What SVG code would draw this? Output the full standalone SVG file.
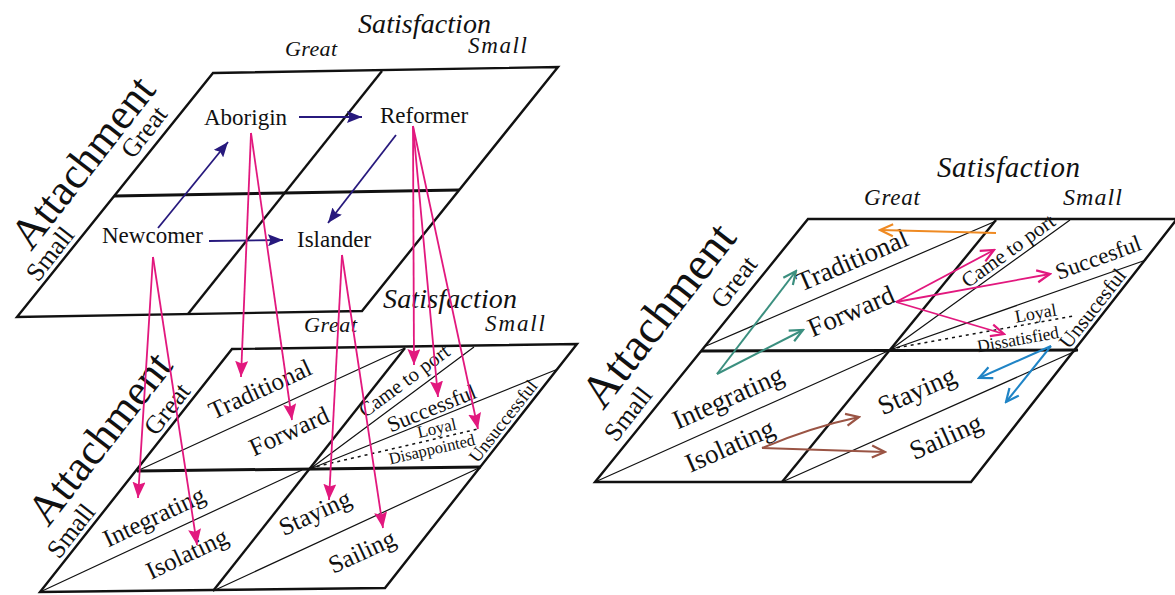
<svg xmlns="http://www.w3.org/2000/svg" width="1175" height="595" viewBox="0 0 1175 595">
  <style>
    .frame { fill: none; stroke: #111; stroke-width: 2.4; stroke-linejoin: miter; }
    .mid { fill: none; stroke: #111; stroke-width: 3; }
    .thin { fill: none; stroke: #111; stroke-width: 1.2; }
    .dot { fill: none; stroke: #111; stroke-width: 1.5; stroke-dasharray: 3 4; }
    text { font-family: "Liberation Serif", "Times New Roman", serif; fill: #111; }
    .head { font-style: italic; }
    .lbl { text-anchor: middle; }
    .side { font-size: 26px; }
    .axis { font-size: 44px; }
    .node { font-size: 23px; }
    .pink { fill: none; stroke: #e2187e; stroke-width: 1.8; }
    .navy { fill: none; stroke: #27197d; stroke-width: 1.8; }
    .teal { fill: none; stroke: #3b8f7f; stroke-width: 2; }
    .orange { fill: none; stroke: #ef8a22; stroke-width: 2; }
    .blue { fill: none; stroke: #1f84c6; stroke-width: 2; }
    .brown { fill: none; stroke: #9a5444; stroke-width: 2; }
  </style>
  <defs>
    <marker id="hPink" markerUnits="userSpaceOnUse" markerWidth="17" markerHeight="13" refX="16" refY="6.5" orient="auto">
      <path d="M0,0 L16,6.5 L0,13 L2.5,6.5 z" fill="#e2187e"/>
    </marker>
    <marker id="hNavy" markerUnits="userSpaceOnUse" markerWidth="16" markerHeight="12" refX="15" refY="6" orient="auto">
      <path d="M0,0 L15,6 L0,12 L2.5,6 z" fill="#27197d"/>
    </marker>
    <marker id="oPink" markerUnits="userSpaceOnUse" markerWidth="16" markerHeight="16" refX="14" refY="8" orient="auto">
      <path d="M1,2 L14,8 L1,14" fill="none" stroke="#e2187e" stroke-width="2.2"/>
    </marker>
    <marker id="oTeal" markerUnits="userSpaceOnUse" markerWidth="16" markerHeight="16" refX="14" refY="8" orient="auto">
      <path d="M1,2 L14,8 L1,14" fill="none" stroke="#3b8f7f" stroke-width="2.2"/>
    </marker>
    <marker id="oOrange" markerUnits="userSpaceOnUse" markerWidth="16" markerHeight="16" refX="14" refY="8" orient="auto">
      <path d="M1,2 L14,8 L1,14" fill="none" stroke="#ef8a22" stroke-width="2.2"/>
    </marker>
    <marker id="oBlue" markerUnits="userSpaceOnUse" markerWidth="16" markerHeight="16" refX="14" refY="8" orient="auto">
      <path d="M1,2 L14,8 L1,14" fill="none" stroke="#1f84c6" stroke-width="2.2"/>
    </marker>
    <marker id="oBrown" markerUnits="userSpaceOnUse" markerWidth="16" markerHeight="16" refX="14" refY="8" orient="auto">
      <path d="M1,2 L14,8 L1,14" fill="none" stroke="#9a5444" stroke-width="2.2"/>
    </marker>
  </defs>

  <!-- Upper-left plane: four types -->
  <g id="plane-types">
    <path class="frame" d="M213,73 L558,67 L362,311 L17,317 Z"/>
    <path class="frame" d="M382,71 L188,314"/>
    <path class="mid" d="M114,196 L459,190"/>
    <text class="head" x="358" y="33" font-size="28" textLength="133">Satisfaction</text>
    <text class="head" x="285" y="56" font-size="22" textLength="52">Great</text>
    <text class="head" x="468" y="53" font-size="23" textLength="59">Small</text>
    <text class="axis" transform="translate(31,252) rotate(-52)">Attachment</text>
    <text class="side" transform="translate(133,160) rotate(-52)">Great</text>
    <text class="side" transform="translate(38,283) rotate(-52)">Small</text>
  </g>
  <g id="node-aborigin"><text class="node" x="204" y="125">Aborigin</text></g>
  <g id="node-reformer"><text class="node" x="380" y="123">Reformer</text></g>
  <g id="node-newcomer"><text class="node" x="102" y="243">Newcomer</text></g>
  <g id="node-islander"><text class="node" x="297" y="247">Islander</text></g>

  <!-- Lower-left plane: strategies -->
  <g id="plane-strategies">
    <path class="frame" d="M232,349 L577,344 L385,588 L40,592 Z"/>
    <path class="frame" d="M405,348 L213,591"/>
    <path class="mid" d="M137,471 L481,467"/>
    <path class="thin" d="M137,471 L405,348 M310,469 L474,347 M310,469 L558,369 M40,592 L302,470 M213,591 L481,467"/>
    <path class="dot" d="M310,468 L478,429"/>
    <text class="head" x="383" y="308" font-size="28" textLength="134">Satisfaction</text>
    <text class="head" x="304" y="332" font-size="22" textLength="53">Great</text>
    <text class="head" x="485" y="331" font-size="23" textLength="60">Small</text>
    <text class="axis" transform="translate(48,528) rotate(-52)">Attachment</text>
    <text class="side" transform="translate(156,437) rotate(-52)">Great</text>
    <text class="side" transform="translate(59,560) rotate(-52)">Small</text>
  </g>
  <g id="node-traditional"><text class="lbl" style="font-size:25px" transform="translate(263.6,396.7) rotate(-24.7)">Traditional</text></g>
  <g id="node-forward"><text class="lbl" style="font-size:25px" transform="translate(292.6,438.7) rotate(-24.7)">Forward</text></g>
  <g id="node-came"><text class="lbl" style="font-size:20.5px" transform="translate(408.3,386.3) rotate(-36.6)">Came to port</text></g>
  <g id="node-successful"><text class="lbl" style="font-size:22px" transform="translate(434.3,415) rotate(-22)">Successful</text></g>
  <g id="node-loyal"><text class="lbl" style="font-size:17px" transform="translate(438,433.6) rotate(-13)">Loyal</text></g>
  <g id="node-disappointed"><text class="lbl" style="font-size:16.5px" transform="translate(433,454.6) rotate(-13)">Disappointed</text></g>
  <g id="node-unsuccessful"><text class="lbl" style="font-size:18.5px" transform="translate(507.9,424.9) rotate(-51.8)">Unsuccessful</text></g>
  <g id="node-integrating"><text class="lbl" style="font-size:25px" transform="translate(157.5,524.2) rotate(-25.3)">Integrating</text></g>
  <g id="node-isolating"><text class="lbl" style="font-size:25px" transform="translate(190.5,561.2) rotate(-25.3)">Isolating</text></g>
  <g id="node-staying"><text class="lbl" style="font-size:25px" transform="translate(318.4,520.2) rotate(-24.8)">Staying</text></g>
  <g id="node-sailing"><text class="lbl" style="font-size:25px" transform="translate(365.4,559.2) rotate(-24.8)">Sailing</text></g>

  <!-- Right plane: transitions between strategies -->
  <g id="plane-transitions">
    <path class="frame" d="M808,219 L1177,219 L971,482 L595,482 Z"/>
    <path class="frame" d="M996,220 L782,482"/>
    <path class="mid" d="M701,351 L1078,350"/>
    <path class="thin" d="M706,346 L996,221 M890,350 L1070,220 M890,350 L1146,260 M595,482 L888,351 M782,482 L1078,350"/>
    <path class="dot" d="M890,349 L1073,316"/>
    <text class="head" x="937" y="177" font-size="29" textLength="143">Satisfaction</text>
    <text class="head" x="864" y="205" font-size="23" textLength="56">Great</text>
    <text class="head" x="1063" y="205" font-size="24" textLength="59">Small</text>
    <text class="axis" style="font-size:47px" transform="translate(603,411) rotate(-52)">Attachment</text>
    <text class="side" transform="translate(723,310) rotate(-52)">Great</text>
    <text class="side" transform="translate(616,443) rotate(-52)">Small</text>
  </g>
  <g id="node-r-traditional"><text class="lbl" style="font-size:27px" transform="translate(855.6,268.4) rotate(-23.3)">Traditional</text></g>
  <g id="node-r-forward"><text class="lbl" style="font-size:27px" transform="translate(854.6,319.4) rotate(-23.3)">Forward</text></g>
  <g id="node-r-came"><text class="lbl" style="font-size:21px" transform="translate(1012.3,256.4) rotate(-35.8)">Came to port</text></g>
  <g id="node-r-succesful"><text class="lbl" style="font-size:23px" transform="translate(1100.8,264.7) rotate(-20)">Succesful</text></g>
  <g id="node-r-loyal"><text class="lbl" style="font-size:18px" transform="translate(1036.7,319) rotate(-10)">Loyal</text></g>
  <g id="node-r-dissatisfied"><text class="lbl" style="font-size:17.5px" transform="translate(1019,345) rotate(-10)">Dissatisfied</text></g>
  <g id="node-r-unsucesful"><text class="lbl" style="font-size:21px" transform="translate(1098,312.9) rotate(-51.8)">Unsucesful</text></g>
  <g id="node-r-integrating"><text class="lbl" style="font-size:27px" transform="translate(731.5,405.7) rotate(-24)">Integrating</text></g>
  <g id="node-r-isolating"><text class="lbl" style="font-size:27px" transform="translate(733.5,453.7) rotate(-24)">Isolating</text></g>
  <g id="node-r-staying"><text class="lbl" style="font-size:27px" transform="translate(920.5,398.7) rotate(-24)">Staying</text></g>
  <g id="node-r-sailing"><text class="lbl" style="font-size:27px" transform="translate(949.5,444.7) rotate(-24)">Sailing</text></g>

  <!-- Connectors -->
  <g id="connectors">
    <!-- type changes on the upper plane -->
    <path class="navy" marker-end="url(#hNavy)" d="M299,117 L362,117"/>
    <path class="navy" marker-end="url(#hNavy)" d="M158,228 L228,142"/>
    <path class="navy" marker-end="url(#hNavy)" d="M396,135 L328,223"/>
    <path class="navy" marker-end="url(#hNavy)" d="M209,241 L283,240"/>
    <!-- types projected onto strategies -->
    <path class="pink" marker-end="url(#hPink)" d="M251,133 L241,377"/>
    <path class="pink" marker-end="url(#hPink)" d="M251,133 L292,420"/>
    <path class="pink" marker-end="url(#hPink)" d="M413,126 L414,365"/>
    <path class="pink" marker-end="url(#hPink)" d="M413,126 L438,397"/>
    <path class="pink" marker-end="url(#hPink)" d="M413,126 L478,429"/>
    <path class="pink" marker-end="url(#hPink)" d="M153,257 L138,498"/>
    <path class="pink" marker-end="url(#hPink)" d="M153,257 L197,545"/>
    <path class="pink" marker-end="url(#hPink)" d="M342,255 L329,500"/>
    <path class="pink" marker-end="url(#hPink)" d="M342,255 L383,528"/>
    <!-- transitions on the right plane -->
    <path class="orange" marker-end="url(#oOrange)" d="M996,233 L880,230"/>
    <path class="teal" marker-end="url(#oTeal)" d="M717,374 L796,271"/>
    <path class="teal" marker-end="url(#oTeal)" d="M717,374 L803,330"/>
    <path class="pink" stroke-width="2" marker-end="url(#oPink)" d="M896,302 L994,250"/>
    <path class="pink" stroke-width="2" marker-end="url(#oPink)" d="M896,302 L1050,274"/>
    <path class="pink" stroke-width="2" marker-end="url(#oPink)" d="M896,302 L1004,334"/>
    <path class="blue" marker-end="url(#oBlue)" d="M1051,346 L979,378"/>
    <path class="blue" marker-end="url(#oBlue)" d="M1051,346 L1006,402"/>
    <path class="brown" marker-end="url(#oBrown)" d="M762,448 Q812,427 859,417"/>
    <path class="brown" marker-end="url(#oBrown)" d="M762,448 L885,452"/>
  </g>
</svg>
